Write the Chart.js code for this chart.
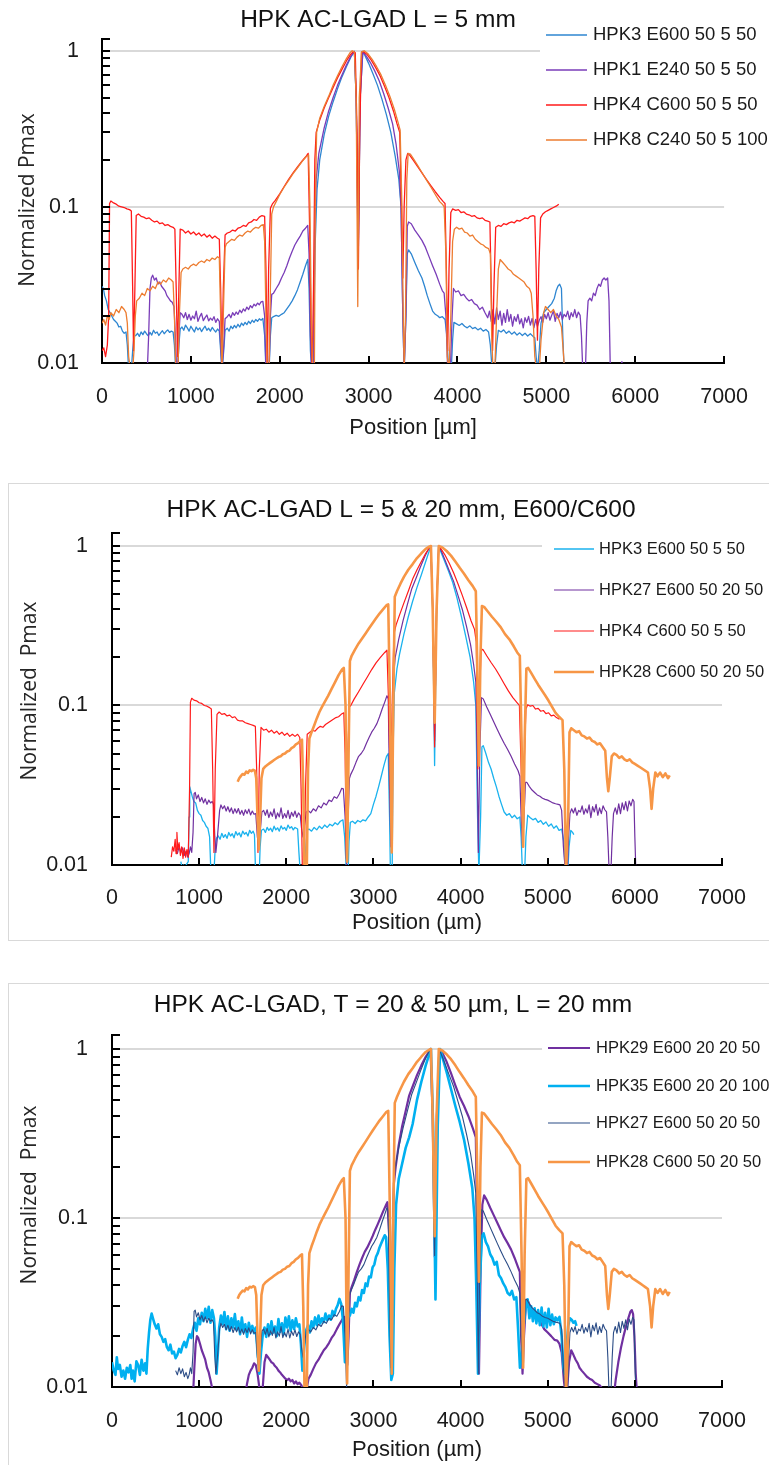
<!DOCTYPE html>
<html><head><meta charset="utf-8">
<script src="https://cdn.jsdelivr.net/npm/chart.js@4.4.0/dist/chart.umd.min.js"></script>
<style>
html,body{margin:0;padding:0;background:#fff;}
body{width:769px;height:1465px;position:relative;overflow:hidden;}
.p{position:absolute;left:0;}
.frame{position:absolute;border:1px solid #d9d9d9;}
</style></head><body>
<div class="frame" style="left:8px;top:483px;width:780px;height:456px"></div>
<div class="frame" style="left:8px;top:983px;width:780px;height:500px"></div>
<canvas id="c1" class="p" style="top:0" width="769" height="450"></canvas>
<canvas id="c2" class="p" style="top:483px" width="769" height="460"></canvas>
<canvas id="c3" class="p" style="top:983px" width="769" height="482"></canvas>
<script>
// ---------- axis ticks ----------
const xTicks = [0,1000,2000,3000,4000,5000,6000,7000];
const xTickLabels = ['0','1000','2000','3000','4000','5000','6000','7000'];
const yTicks = [0.01,0.02,0.03,0.04,0.05,0.06,0.07,0.08,0.09,0.1,0.2,0.3,0.4,0.5,0.6,0.7,0.8,0.9,1];
const yLabelValues = [0.01,0.1,1];
const yLabelTexts = ['0.01','0.1','1'];

// ---------- panel 1 : HPK AC-LGAD L = 5 mm ----------
const p1Labels = ['HPK3 E600 50 5 50','HPK1 E240 50 5 50','HPK4 C600 50 5 50','HPK8 C240 50 5 100'];
const p1Hpk3 = [[0,0.031],[15,0.03],[30,0.027],[50,0.025],[70,0.022],[90,0.021],[110,0.02],[130,0.019],[150,0.0185],[170,0.018],[190,0.017],[210,0.0172],[230,0.016],[250,0.0155],[270,0.0158],[285,0.013],[300,0.009],[330,0.009],[345,0.012],[360,0.0148],[380,0.015],[400,0.0155],[420,0.0148],[440,0.0158],[460,0.0152],[480,0.016],[500,0.0154],[520,0.0149],[540,0.0157],[560,0.0151],[580,0.0162],[600,0.0155],[620,0.0158],[640,0.015],[660,0.0156],[680,0.0161],[700,0.0154],[720,0.0159],[740,0.0163],[760,0.0157],[780,0.016],[800,0.0158],[815,0.013],[830,0.009],[850,0.009],[865,0.013],[880,0.0165],[900,0.017],[920,0.0162],[940,0.0175],[960,0.0168],[980,0.016],[1000,0.0172],[1020,0.0165],[1040,0.0158],[1060,0.017],[1080,0.0163],[1100,0.0168],[1120,0.0159],[1140,0.0166],[1160,0.0172],[1180,0.0162],[1200,0.0167],[1220,0.016],[1240,0.0169],[1260,0.0163],[1280,0.0158],[1300,0.0165],[1320,0.016],[1335,0.012],[1350,0.009],[1370,0.012],[1385,0.0162],[1410,0.0167],[1430,0.016],[1450,0.0172],[1470,0.0166],[1490,0.0174],[1510,0.0168],[1530,0.0177],[1550,0.017],[1570,0.018],[1590,0.0174],[1610,0.0182],[1630,0.0176],[1650,0.0185],[1670,0.0179],[1690,0.0188],[1710,0.0182],[1730,0.019],[1750,0.0185],[1770,0.0192],[1790,0.0188],[1810,0.0193],[1830,0.015],[1845,0.009],[1880,0.009],[1895,0.015],[1910,0.0195],[1930,0.0198],[1960,0.0202],[1990,0.0199],[2020,0.0205],[2050,0.021],[2080,0.0222],[2110,0.0235],[2140,0.025],[2170,0.027],[2200,0.0295],[2230,0.033],[2260,0.037],[2290,0.042],[2315,0.046],[2330,0.03],[2345,0.012],[2360,0.009],[2380,0.009],[2395,0.05],[2420,0.13],[2450,0.2],[2500,0.29],[2550,0.38],[2600,0.47],[2650,0.57],[2700,0.68],[2750,0.79],[2800,0.91],[2840,0.99],[2860,0.5],[2883,0.045],[2905,0.5],[2935,0.99],[2960,0.93],[3000,0.83],[3050,0.71],[3100,0.6],[3150,0.49],[3200,0.39],[3250,0.3],[3300,0.21],[3340,0.15],[3365,0.1],[3385,0.02],[3400,0.009],[3420,0.02],[3435,0.05],[3450,0.053],[3480,0.05],[3520,0.044],[3560,0.039],[3600,0.035],[3630,0.031],[3660,0.027],[3690,0.024],[3720,0.0215],[3750,0.0205],[3780,0.02],[3800,0.0195],[3830,0.0198],[3860,0.019],[3880,0.015],[3900,0.009],[3930,0.009],[3945,0.014],[3960,0.0182],[3990,0.0178],[4020,0.0174],[4050,0.0179],[4080,0.0172],[4110,0.0168],[4140,0.0173],[4170,0.0166],[4200,0.0169],[4230,0.0163],[4260,0.0167],[4290,0.016],[4320,0.0164],[4350,0.0158],[4370,0.013],[4390,0.009],[4420,0.009],[4440,0.013],[4460,0.0162],[4490,0.0158],[4520,0.0163],[4550,0.0155],[4580,0.016],[4610,0.0153],[4640,0.0158],[4670,0.0151],[4700,0.0156],[4730,0.015],[4760,0.0155],[4790,0.0149],[4820,0.0154],[4850,0.0148],[4870,0.0145],[4885,0.011],[4900,0.009],[4920,0.012],[4940,0.018],[4970,0.021],[5000,0.022],[5030,0.023],[5060,0.024],[5090,0.026],[5110,0.029],[5130,0.031],[5150,0.032],[5170,0.03],[5185,0.015],[5200,0.009]];
const p1Hpk1 = [[510,0.009],[525,0.015],[540,0.03],[555,0.035],[570,0.0365],[590,0.034],[610,0.035],[630,0.032],[650,0.033],[670,0.031],[690,0.03],[710,0.029],[730,0.027],[750,0.026],[770,0.025],[790,0.0245],[810,0.023],[825,0.015],[840,0.009],[855,0.009],[865,0.015],[880,0.021],[900,0.0205],[920,0.0195],[940,0.021],[960,0.019],[980,0.0205],[1000,0.0188],[1020,0.02],[1040,0.0192],[1060,0.0215],[1080,0.0185],[1100,0.0198],[1120,0.0208],[1140,0.0187],[1160,0.0195],[1180,0.0203],[1200,0.0186],[1220,0.0194],[1240,0.0188],[1260,0.0198],[1280,0.0182],[1300,0.0192],[1320,0.0185],[1335,0.013],[1350,0.009],[1370,0.013],[1385,0.0192],[1410,0.0198],[1430,0.0205],[1450,0.0195],[1470,0.021],[1490,0.0202],[1510,0.0212],[1530,0.0205],[1550,0.0218],[1570,0.021],[1590,0.0222],[1610,0.0215],[1630,0.0228],[1650,0.022],[1670,0.0233],[1690,0.0226],[1710,0.0238],[1730,0.0232],[1750,0.0242],[1770,0.0236],[1790,0.0246],[1810,0.0248],[1830,0.02],[1845,0.009],[1880,0.009],[1895,0.02],[1910,0.0275],[1930,0.028],[1960,0.03],[1990,0.032],[2020,0.035],[2050,0.038],[2080,0.042],[2110,0.047],[2140,0.052],[2170,0.057],[2200,0.061],[2230,0.065],[2260,0.07],[2290,0.073],[2315,0.076],[2330,0.05],[2345,0.015],[2360,0.009],[2380,0.009],[2395,0.07],[2410,0.15],[2440,0.22],[2500,0.32],[2550,0.41],[2600,0.5],[2650,0.6],[2700,0.7],[2750,0.81],[2800,0.92],[2840,0.99],[2860,0.5],[2883,0.05],[2905,0.5],[2935,0.99],[2970,0.93],[3020,0.84],[3070,0.74],[3120,0.64],[3170,0.53],[3220,0.43],[3270,0.34],[3310,0.25],[3345,0.17],[3365,0.1],[3385,0.02],[3400,0.009],[3420,0.02],[3435,0.075],[3450,0.08],[3480,0.078],[3520,0.071],[3560,0.066],[3600,0.061],[3640,0.055],[3680,0.048],[3720,0.042],[3760,0.037],[3800,0.032],[3830,0.029],[3850,0.028],[3870,0.02],[3890,0.009],[3920,0.009],[3940,0.02],[3955,0.03],[3980,0.0285],[4010,0.029],[4040,0.027],[4070,0.0275],[4100,0.026],[4130,0.025],[4160,0.0255],[4190,0.024],[4220,0.0235],[4250,0.022],[4280,0.0228],[4310,0.021],[4340,0.0195],[4360,0.0215],[4380,0.0185],[4400,0.022],[4420,0.0178],[4440,0.0225],[4460,0.019],[4480,0.0215],[4500,0.0175],[4520,0.0208],[4540,0.0182],[4560,0.022],[4580,0.0185],[4600,0.0205],[4620,0.0172],[4640,0.0198],[4660,0.0185],[4680,0.0205],[4700,0.0178],[4720,0.0192],[4740,0.0168],[4760,0.0195],[4780,0.0182],[4800,0.0199],[4820,0.0175],[4840,0.0193],[4860,0.0168],[4880,0.019],[4900,0.0172],[4920,0.0188],[4940,0.0198],[4960,0.0182],[4980,0.0205],[5000,0.0192],[5020,0.021],[5040,0.0188],[5060,0.0202],[5080,0.0215],[5100,0.0185],[5120,0.0208],[5140,0.0195],[5160,0.0212],[5180,0.019],[5200,0.0205],[5220,0.0198],[5240,0.0215],[5260,0.019],[5280,0.021],[5300,0.0198],[5320,0.022],[5340,0.0195],[5360,0.0212],[5380,0.0202],[5395,0.015],[5410,0.009],[5440,0.009],[5455,0.018],[5470,0.025],[5490,0.026],[5510,0.025],[5530,0.028],[5550,0.027],[5570,0.03],[5590,0.032],[5610,0.031],[5630,0.034],[5650,0.035],[5670,0.034],[5690,0.035],[5705,0.025],[5720,0.009],[5730,null],[5835,0.009],[5850,0.0102],[5865,0.009]];
const p1Hpk4 = [[0,0.012],[20,0.0125],[40,0.011],[60,0.013],[75,0.02],[85,0.105],[100,0.109],[130,0.106],[160,0.104],[190,0.101],[220,0.1],[250,0.099],[280,0.097],[310,0.096],[330,0.094],[345,0.03],[355,0.012],[370,0.03],[385,0.088],[410,0.09],[440,0.087],[470,0.086],[500,0.084],[530,0.085],[560,0.082],[590,0.08],[620,0.081],[650,0.078],[680,0.079],[710,0.076],[740,0.077],[770,0.075],[800,0.074],[820,0.072],[835,0.03],[850,0.011],[865,0.03],[880,0.072],[910,0.071],[940,0.068],[970,0.07],[1000,0.067],[1030,0.069],[1060,0.066],[1090,0.068],[1120,0.065],[1150,0.067],[1180,0.064],[1210,0.066],[1240,0.063],[1270,0.065],[1300,0.063],[1320,0.062],[1335,0.03],[1350,0.011],[1365,0.03],[1385,0.066],[1410,0.068],[1440,0.069],[1470,0.071],[1500,0.07],[1530,0.073],[1560,0.074],[1590,0.076],[1620,0.075],[1650,0.079],[1680,0.08],[1710,0.083],[1740,0.082],[1770,0.086],[1800,0.088],[1830,0.087],[1845,0.04],[1860,0.009],[1875,0.04],[1895,0.098],[1920,0.105],[1950,0.11],[2000,0.121],[2050,0.135],[2100,0.15],[2150,0.165],[2200,0.18],[2250,0.196],[2300,0.212],[2320,0.22],[2335,0.08],[2350,0.02],[2365,0.009],[2380,0.03],[2395,0.2],[2410,0.3],[2450,0.36],[2500,0.43],[2550,0.5],[2600,0.58],[2650,0.67],[2700,0.76],[2750,0.86],[2800,0.95],[2830,0.99],[2850,0.97],[2870,0.3],[2885,0.04],[2900,0.3],[2920,0.98],[2940,0.99],[2980,0.95],[3030,0.87],[3080,0.78],[3130,0.69],[3180,0.59],[3230,0.5],[3280,0.41],[3320,0.34],[3350,0.3],[3370,0.1],[3385,0.035],[3400,0.1],[3420,0.2],[3440,0.22],[3460,0.215],[3500,0.2],[3550,0.182],[3600,0.165],[3650,0.15],[3700,0.137],[3750,0.125],[3800,0.115],[3840,0.108],[3860,0.105],[3875,0.04],[3890,0.012],[3905,0.04],[3925,0.092],[3945,0.097],[3980,0.095],[4010,0.096],[4040,0.092],[4070,0.093],[4100,0.09],[4130,0.089],[4160,0.087],[4190,0.088],[4220,0.085],[4250,0.084],[4280,0.085],[4310,0.082],[4340,0.081],[4365,0.08],[4380,0.03],[4395,0.012],[4410,0.03],[4430,0.074],[4460,0.076],[4490,0.075],[4520,0.078],[4550,0.077],[4580,0.079],[4610,0.08],[4640,0.079],[4670,0.082],[4700,0.081],[4730,0.083],[4760,0.085],[4790,0.084],[4820,0.087],[4850,0.088],[4870,0.087],[4885,0.04],[4900,0.014],[4915,0.04],[4935,0.085],[4960,0.09],[4990,0.093],[5020,0.095],[5050,0.097],[5080,0.099],[5110,0.101],[5140,0.104]];
const p1Hpk8 = [[0,0.018],[20,0.019],[40,0.0175],[60,0.02],[80,0.019],[100,0.021],[130,0.02],[160,0.022],[190,0.021],[220,0.023],[250,0.022],[270,0.021],[285,0.018],[300,0.011],[320,0.009],[345,0.009],[360,0.012],[375,0.02],[390,0.025],[420,0.026],[450,0.028],[480,0.027],[510,0.03],[540,0.029],[570,0.031],[600,0.03],[630,0.033],[660,0.032],[690,0.034],[720,0.033],[750,0.035],[780,0.034],[800,0.033],[815,0.02],[830,0.009],[855,0.009],[870,0.02],[890,0.038],[910,0.04],[940,0.041],[970,0.04],[1000,0.042],[1030,0.043],[1060,0.042],[1090,0.044],[1120,0.045],[1150,0.044],[1180,0.046],[1210,0.045],[1240,0.047],[1270,0.046],[1300,0.048],[1320,0.047],[1335,0.02],[1350,0.009],[1365,0.02],[1385,0.055],[1400,0.058],[1430,0.06],[1460,0.062],[1490,0.061],[1520,0.064],[1550,0.066],[1580,0.065],[1610,0.068],[1640,0.07],[1670,0.069],[1700,0.072],[1730,0.074],[1760,0.073],[1790,0.076],[1815,0.077],[1830,0.06],[1845,0.02],[1860,0.009],[1880,0.009],[1895,0.03],[1910,0.09],[1930,0.1],[1960,0.108],[2000,0.12],[2050,0.134],[2100,0.148],[2150,0.163],[2200,0.178],[2250,0.195],[2300,0.21],[2325,0.215],[2340,0.1],[2355,0.02],[2370,0.009],[2390,0.009],[2400,0.1],[2415,0.3],[2450,0.37],[2500,0.44],[2550,0.51],[2600,0.6],[2650,0.69],[2700,0.79],[2750,0.89],[2790,0.97],[2815,1.0],[2840,0.98],[2860,0.5],[2878,0.023],[2895,0.5],[2920,0.98],[2950,1.0],[2990,0.96],[3040,0.88],[3090,0.79],[3140,0.7],[3190,0.6],[3240,0.51],[3290,0.42],[3330,0.35],[3355,0.31],[3375,0.1],[3390,0.02],[3400,0.009],[3415,0.02],[3430,0.15],[3445,0.22],[3470,0.218],[3500,0.205],[3550,0.185],[3600,0.166],[3650,0.149],[3700,0.134],[3750,0.12],[3800,0.108],[3830,0.104],[3850,0.1],[3870,0.05],[3885,0.011],[3905,0.009],[3925,0.02],[3945,0.06],[3965,0.072],[3990,0.074],[4020,0.072],[4050,0.073],[4080,0.069],[4110,0.068],[4140,0.065],[4170,0.066],[4200,0.062],[4230,0.06],[4260,0.058],[4290,0.057],[4320,0.055],[4350,0.054],[4370,0.05],[4385,0.015],[4400,0.009],[4420,0.009],[4440,0.02],[4460,0.04],[4480,0.046],[4510,0.044],[4540,0.042],[4570,0.04],[4600,0.039],[4630,0.037],[4660,0.036],[4690,0.035],[4720,0.034],[4750,0.033],[4780,0.031],[4810,0.03],[4830,0.028],[4850,0.02],[4870,0.011],[4890,0.009],[4920,0.009],[4940,0.014],[4970,0.021],[4990,0.023],[5020,0.022],[5050,0.021],[5080,0.022],[5110,0.02],[5140,0.019],[5170,0.017],[5190,0.012],[5205,0.009]];

// ---------- panel 2 : L = 5 & 20 mm ----------
const p2Labels = ['HPK3 E600 50 5 50','HPK27 E600 50 20 50','HPK4 C600 50 5 50','HPK28 C600 50 20 50'];
const p2Hpk3 = [[790,0.0105],[805,0.0095],[820,0.01],[840,0.0098],[860,0.0102],[875,0.0105],[885,0.02],[892,0.031],[905,0.029],[920,0.027],[940,0.025],[960,0.0245],[980,0.022],[1000,0.021],[1020,0.0205],[1040,0.019],[1060,0.0185],[1080,0.0175],[1100,0.017],[1120,0.015],[1135,0.009],[1170,0.009],[1185,0.013],[1200,0.0148],[1220,0.0152],[1240,0.0145],[1260,0.0158],[1280,0.0149],[1300,0.0155],[1320,0.0147],[1340,0.016],[1360,0.0152],[1380,0.0157],[1400,0.0148],[1420,0.0162],[1440,0.0154],[1460,0.0159],[1480,0.015],[1500,0.0163],[1520,0.0156],[1540,0.016],[1560,0.0152],[1580,0.0165],[1600,0.0158],[1620,0.0163],[1635,0.0155],[1645,0.01],[1665,0.009],[1690,0.009],[1700,0.013],[1715,0.0165],[1740,0.0168],[1760,0.016],[1780,0.0172],[1800,0.0165],[1820,0.017],[1840,0.0162],[1860,0.0175],[1880,0.0166],[1900,0.0171],[1920,0.0163],[1940,0.0176],[1960,0.0168],[1980,0.0172],[2000,0.0165],[2020,0.0178],[2040,0.017],[2060,0.0174],[2080,0.0166],[2100,0.0172],[2130,0.0168],[2145,0.012],[2160,0.009],[2210,0.009],[2225,0.013],[2240,0.0165],[2260,0.0168],[2290,0.0163],[2320,0.0172],[2350,0.0166],[2380,0.0175],[2410,0.0169],[2440,0.0178],[2470,0.0172],[2500,0.018],[2530,0.0176],[2560,0.0184],[2590,0.0179],[2620,0.0188],[2650,0.0192],[2670,0.015],[2690,0.009],[2710,0.009],[2720,0.014],[2735,0.0185],[2760,0.0188],[2790,0.0182],[2820,0.019],[2850,0.0186],[2880,0.0192],[2910,0.0189],[2940,0.02],[2970,0.021],[3000,0.024],[3030,0.027],[3060,0.031],[3090,0.036],[3120,0.042],[3150,0.048],[3170,0.05],[3185,0.02],[3195,0.009],[3215,0.009],[3225,0.05],[3240,0.12],[3270,0.17],[3300,0.21],[3350,0.28],[3400,0.36],[3450,0.45],[3500,0.55],[3550,0.66],[3600,0.8],[3640,0.93],[3660,1.0],[3680,0.4],[3702,0.042],[3725,0.4],[3748,1.0],[3770,0.93],[3810,0.82],[3860,0.7],[3910,0.59],[3960,0.47],[4010,0.36],[4060,0.27],[4110,0.2],[4150,0.14],[4175,0.1],[4195,0.02],[4210,0.009],[4230,0.02],[4245,0.055],[4260,0.056],[4290,0.05],[4320,0.044],[4350,0.04],[4380,0.035],[4410,0.031],[4440,0.027],[4470,0.024],[4500,0.0215],[4530,0.0205],[4560,0.021],[4590,0.0198],[4620,0.0205],[4650,0.0195],[4680,0.02],[4695,0.015],[4710,0.009],[4735,0.009],[4750,0.015],[4770,0.0205],[4800,0.0198],[4830,0.0192],[4860,0.0196],[4890,0.0185],[4920,0.019],[4950,0.018],[4980,0.0186],[5010,0.0175],[5040,0.0181],[5070,0.017],[5100,0.0176],[5130,0.0165],[5160,0.0168],[5185,0.014],[5200,0.009],[5230,0.009],[5245,0.013],[5265,0.0165],[5285,0.016],[5300,0.0155]];
const hpk27 = [[730,0.0125],[750,0.0118],[770,0.013],[790,0.012],[810,0.0128],[830,0.0115],[850,0.0122],[870,0.0112],[885,0.0118],[900,0.013],[915,0.012],[930,0.016],[942,0.028],[955,0.0285],[970,0.026],[990,0.0275],[1010,0.025],[1030,0.0265],[1050,0.0245],[1070,0.026],[1090,0.024],[1110,0.0255],[1130,0.0245],[1150,0.025],[1165,0.024],[1180,0.015],[1192,0.012],[1210,0.015],[1235,0.022],[1250,0.0238],[1270,0.0225],[1290,0.0235],[1310,0.0218],[1330,0.0232],[1350,0.0215],[1370,0.0228],[1390,0.021],[1410,0.0225],[1430,0.0212],[1450,0.0226],[1470,0.0208],[1490,0.022],[1510,0.0205],[1530,0.0222],[1550,0.021],[1570,0.0224],[1590,0.0206],[1610,0.0218],[1630,0.0208],[1650,0.021],[1668,0.015],[1685,0.013],[1700,0.016],[1720,0.0215],[1740,0.022],[1760,0.0205],[1780,0.0222],[1800,0.0198],[1820,0.0215],[1840,0.0202],[1860,0.0225],[1880,0.0195],[1900,0.0212],[1920,0.02],[1940,0.0228],[1960,0.0196],[1980,0.021],[2000,0.0198],[2020,0.022],[2040,0.0195],[2060,0.0214],[2080,0.0202],[2100,0.0218],[2120,0.0199],[2140,0.0212],[2160,0.0205],[2175,0.017],[2192,0.015],[2210,0.018],[2230,0.0215],[2250,0.022],[2280,0.0212],[2310,0.0225],[2340,0.0218],[2370,0.0235],[2400,0.0228],[2430,0.0245],[2460,0.0238],[2490,0.0255],[2520,0.025],[2550,0.0268],[2580,0.0262],[2610,0.028],[2635,0.0302],[2655,0.03],[2675,0.02],[2692,0.01],[2710,0.02],[2725,0.035],[2740,0.037],[2770,0.04],[2800,0.044],[2830,0.048],[2860,0.05],[2890,0.053],[2920,0.058],[2950,0.063],[2980,0.068],[3010,0.072],[3040,0.077],[3070,0.085],[3100,0.095],[3130,0.105],[3155,0.115],[3170,0.11],[3185,0.03],[3200,0.013],[3215,0.04],[3230,0.15],[3250,0.2],[3290,0.26],[3340,0.34],[3390,0.43],[3440,0.54],[3490,0.63],[3540,0.74],[3590,0.86],[3630,0.95],[3655,1.0],[3680,0.4],[3702,0.06],[3725,0.4],[3750,1.0],[3775,0.94],[3820,0.82],[3870,0.7],[3920,0.6],[3970,0.49],[4020,0.4],[4070,0.31],[4115,0.24],[4150,0.18],[4175,0.14],[4190,0.05],[4204,0.012],[4220,0.05],[4240,0.112],[4260,0.11],[4300,0.098],[4340,0.088],[4380,0.079],[4420,0.071],[4460,0.064],[4500,0.058],[4540,0.053],[4580,0.048],[4620,0.043],[4660,0.039],[4680,0.036],[4695,0.02],[4711,0.013],[4728,0.02],[4745,0.033],[4760,0.033],[4790,0.031],[4820,0.0295],[4850,0.0285],[4880,0.0275],[4910,0.027],[4940,0.0262],[4970,0.0258],[5000,0.0255],[5030,0.025],[5060,0.0245],[5090,0.0242],[5120,0.024],[5140,0.0238],[5160,0.022],[5180,0.013],[5204,0.009],[5225,0.009],[5240,0.015],[5255,0.021],[5275,0.0225],[5295,0.0212],[5315,0.0228],[5335,0.0205],[5355,0.022],[5375,0.0215],[5395,0.0235],[5415,0.0208],[5435,0.0225],[5455,0.0212],[5475,0.0238],[5495,0.0198],[5515,0.0232],[5535,0.0215],[5555,0.024],[5575,0.0205],[5595,0.0228],[5615,0.021],[5635,0.0235],[5655,0.0222],[5675,0.0215],[5690,0.015],[5705,0.009],[5725,0.009],[5740,0.015],[5755,0.021],[5775,0.0228],[5795,0.0208],[5815,0.0242],[5835,0.021],[5855,0.0245],[5875,0.0222],[5895,0.025],[5915,0.0218],[5935,0.0252],[5955,0.0235],[5975,0.0258],[5990,0.025],[6000,0.015],[6012,0.009]];
const p2Hpk4 = [[680,0.0112],[695,0.013],[710,0.0122],[725,0.0145],[735,0.0118],[745,0.016],[755,0.0125],[770,0.0138],[785,0.0115],[800,0.013],[815,0.011],[830,0.0128],[845,0.0112],[860,0.0125],[875,0.0112],[890,0.03],[900,0.105],[915,0.111],[940,0.108],[970,0.107],[1000,0.104],[1030,0.103],[1060,0.1],[1090,0.099],[1120,0.097],[1140,0.095],[1155,0.04],[1170,0.012],[1185,0.04],[1205,0.088],[1230,0.091],[1260,0.088],[1290,0.089],[1320,0.086],[1350,0.087],[1380,0.084],[1410,0.085],[1440,0.081],[1470,0.08],[1500,0.08],[1530,0.078],[1560,0.077],[1590,0.076],[1620,0.075],[1645,0.074],[1660,0.04],[1675,0.012],[1690,0.04],[1710,0.073],[1740,0.07],[1770,0.071],[1800,0.068],[1830,0.07],[1860,0.067],[1890,0.069],[1920,0.066],[1950,0.068],[1980,0.065],[2010,0.067],[2040,0.064],[2070,0.066],[2100,0.064],[2130,0.066],[2155,0.063],[2170,0.03],[2185,0.009],[2205,0.009],[2220,0.03],[2240,0.066],[2270,0.068],[2300,0.07],[2330,0.069],[2360,0.072],[2390,0.074],[2420,0.073],[2450,0.076],[2480,0.078],[2510,0.08],[2540,0.082],[2570,0.084],[2600,0.085],[2630,0.088],[2660,0.09],[2675,0.05],[2690,0.011],[2705,0.05],[2725,0.098],[2740,0.1],[2780,0.11],[2830,0.122],[2880,0.136],[2930,0.151],[2980,0.168],[3030,0.185],[3080,0.2],[3130,0.215],[3155,0.222],[3175,0.1],[3195,0.03],[3215,0.1],[3235,0.28],[3260,0.32],[3300,0.37],[3350,0.44],[3400,0.52],[3450,0.62],[3500,0.71],[3550,0.8],[3600,0.9],[3640,0.97],[3660,1.0],[3680,0.45],[3702,0.055],[3725,0.45],[3748,1.0],[3770,0.97],[3820,0.88],[3870,0.78],[3920,0.68],[3970,0.58],[4020,0.49],[4070,0.41],[4120,0.34],[4160,0.3],[4180,0.25],[4198,0.04],[4215,0.1],[4235,0.22],[4255,0.225],[4300,0.205],[4350,0.186],[4400,0.17],[4450,0.153],[4500,0.137],[4550,0.123],[4600,0.112],[4650,0.104],[4675,0.1],[4695,0.04],[4712,0.017],[4728,0.04],[4750,0.095],[4770,0.101],[4800,0.099],[4830,0.1],[4860,0.095],[4890,0.096],[4920,0.092],[4950,0.093],[4980,0.089],[5010,0.09],[5040,0.086],[5070,0.087],[5100,0.084],[5135,0.082]];
const hpk28 = [[1442,0.0333],[1460,0.035],[1480,0.0362],[1500,0.0372],[1520,0.0368],[1540,0.0385],[1560,0.0378],[1580,0.0392],[1600,0.0388],[1620,0.0395],[1640,0.039],[1655,0.035],[1670,0.02],[1685,0.0125],[1700,0.02],[1715,0.035],[1735,0.04],[1760,0.0415],[1785,0.0425],[1810,0.0435],[1835,0.0445],[1860,0.0455],[1885,0.0465],[1910,0.0475],[1935,0.048],[1960,0.0495],[1985,0.05],[2010,0.0515],[2035,0.052],[2060,0.054],[2085,0.055],[2110,0.057],[2135,0.058],[2160,0.06],[2180,0.061],[2195,0.03],[2210,0.009],[2235,0.009],[2250,0.04],[2265,0.062],[2290,0.068],[2320,0.075],[2350,0.083],[2380,0.091],[2410,0.098],[2440,0.105],[2480,0.115],[2520,0.127],[2560,0.14],[2600,0.155],[2640,0.168],[2660,0.172],[2680,0.1],[2698,0.0105],[2715,0.05],[2730,0.19],[2750,0.205],[2790,0.225],[2830,0.245],[2870,0.263],[2910,0.283],[2950,0.305],[2990,0.328],[3030,0.352],[3070,0.377],[3110,0.4],[3150,0.425],[3170,0.43],[3190,0.1],[3210,0.012],[3228,0.1],[3245,0.48],[3270,0.52],[3310,0.58],[3350,0.64],[3400,0.71],[3450,0.77],[3500,0.84],[3550,0.9],[3600,0.96],[3640,0.99],[3660,1.0],[3680,0.4],[3703,0.078],[3725,0.4],[3750,1.0],[3790,0.98],[3840,0.93],[3890,0.87],[3940,0.8],[3990,0.73],[4040,0.67],[4090,0.61],[4140,0.56],[4175,0.52],[4190,0.2],[4210,0.042],[4228,0.2],[4245,0.42],[4270,0.415],[4310,0.39],[4360,0.36],[4410,0.335],[4460,0.31],[4510,0.28],[4560,0.26],[4610,0.235],[4650,0.215],[4680,0.205],[4700,0.06],[4718,0.013],[4735,0.06],[4755,0.17],[4775,0.172],[4810,0.16],[4850,0.147],[4890,0.135],[4930,0.125],[4970,0.116],[5010,0.107],[5050,0.098],[5090,0.09],[5130,0.085],[5170,0.081],[5190,0.04],[5210,0.009],[5235,0.02],[5250,0.068],[5270,0.072],[5300,0.07],[5330,0.068],[5360,0.069],[5390,0.065],[5420,0.064],[5450,0.062],[5480,0.063],[5510,0.06],[5540,0.059],[5570,0.057],[5600,0.058],[5630,0.055],[5660,0.052],[5680,0.035],[5695,0.029],[5712,0.035],[5735,0.048],[5760,0.05],[5790,0.049],[5820,0.047],[5850,0.048],[5880,0.046],[5910,0.045],[5940,0.046],[5970,0.044],[6000,0.043],[6030,0.042],[6060,0.041],[6090,0.04],[6120,0.039],[6150,0.038],[6175,0.03],[6192,0.0225],[6210,0.03],[6235,0.038],[6260,0.036],[6290,0.038],[6320,0.0355],[6350,0.0375],[6380,0.035],[6400,0.0365]];

// ---------- panel 3 : T = 20 & 50 um, L = 20 mm ----------
const p3Labels = ['HPK29 E600 20 20 50','HPK35 E600 20 20 100','HPK27 E600 50 20 50','HPK28 C600 50 20 50'];
const hpk29 = [[930,0.009],[945,0.013],[960,0.018],[975,0.02],[990,0.0195],[1010,0.018],[1030,0.0165],[1050,0.0155],[1070,0.0145],[1090,0.013],[1110,0.0122],[1130,0.011],[1150,0.0098],[1165,0.009],[1200,null],[1530,0.009],[1550,0.0105],[1570,0.0118],[1590,0.0125],[1610,0.013],[1630,0.0138],[1650,0.0135],[1670,0.012],[1690,0.01],[1710,0.009],[1730,0.01],[1750,0.014],[1770,0.0155],[1790,0.015],[1810,0.0145],[1830,0.014],[1850,0.0138],[1870,0.0133],[1890,0.013],[1910,0.0125],[1930,0.0122],[1950,0.0118],[1970,0.0115],[1990,0.0112],[2010,0.011],[2030,0.0112],[2050,0.0108],[2070,0.011],[2090,0.0105],[2110,0.0108],[2130,0.0104],[2150,0.0106],[2175,0.0102],[2195,0.0095],[2215,0.009],[2235,0.0098],[2255,0.0112],[2280,0.0118],[2310,0.0128],[2340,0.0138],[2370,0.0145],[2400,0.0155],[2430,0.0165],[2460,0.0172],[2490,0.0182],[2520,0.0195],[2550,0.0205],[2580,0.022],[2610,0.0235],[2640,0.025],[2665,0.026],[2680,0.02],[2700,0.0135],[2715,0.02],[2730,0.036],[2750,0.039],[2780,0.043],[2810,0.048],[2840,0.053],[2870,0.058],[2900,0.063],[2930,0.067],[2960,0.072],[2990,0.078],[3020,0.085],[3050,0.092],[3080,0.1],[3110,0.109],[3140,0.118],[3160,0.124],[3180,0.08],[3200,0.015],[3218,0.06],[3235,0.16],[3255,0.2],[3290,0.27],[3330,0.35],[3370,0.43],[3410,0.53],[3450,0.6],[3500,0.7],[3550,0.8],[3600,0.9],[3640,0.97],[3655,1.0],[3680,0.4],[3704,0.059],[3728,0.4],[3760,1.0],[3790,0.95],[3840,0.84],[3890,0.72],[3940,0.61],[3990,0.52],[4040,0.46],[4090,0.4],[4140,0.34],[4175,0.3],[4192,0.08],[4211,0.012],[4230,0.05],[4250,0.12],[4270,0.136],[4300,0.128],[4340,0.115],[4380,0.104],[4420,0.094],[4460,0.085],[4500,0.077],[4540,0.071],[4580,0.065],[4620,0.058],[4660,0.051],[4680,0.048],[4695,0.02],[4711,0.012],[4728,0.02],[4750,0.031],[4770,0.0325],[4800,0.03],[4840,0.027],[4880,0.0255],[4920,0.024],[4960,0.022],[5000,0.021],[5040,0.02],[5080,0.019],[5110,0.0188],[5135,0.018],[5160,0.016],[5185,0.011],[5204,0.009],[5225,0.01],[5245,0.014],[5270,0.0165],[5295,0.0155],[5320,0.0145],[5345,0.0138],[5365,0.013],[5390,0.0125],[5420,0.012],[5450,0.0115],[5480,0.0112],[5510,0.011],[5540,0.0106],[5570,0.0104],[5600,0.0102],[5625,0.0098],[5650,0.0092],[5670,0.009],[5700,null],[5760,0.009],[5780,0.011],[5810,0.014],[5840,0.017],[5870,0.02],[5900,0.023],[5930,0.026],[5950,0.028],[5965,0.0285],[5980,0.027],[5995,0.02],[6010,0.012],[6025,0.009]];
const hpk35 = [[0,0.014],[20,0.0125],[40,0.0118],[55,0.015],[70,0.0128],[90,0.0135],[110,0.0115],[130,0.0125],[150,0.0112],[170,0.013],[190,0.0122],[210,0.0135],[225,0.0112],[240,0.0125],[260,0.0108],[280,0.0142],[300,0.0135],[320,0.0118],[340,0.0145],[360,0.0125],[380,0.0138],[395,0.012],[410,0.0168],[425,0.021],[440,0.025],[455,0.0272],[470,0.0255],[490,0.0235],[510,0.0222],[530,0.0235],[550,0.0205],[570,0.0198],[590,0.0185],[610,0.0192],[630,0.0172],[650,0.0165],[670,0.0178],[690,0.0158],[710,0.0162],[730,0.0148],[750,0.0155],[770,0.0168],[790,0.016],[810,0.0175],[830,0.0185],[850,0.0172],[870,0.019],[890,0.0205],[910,0.0195],[930,0.022],[950,0.024],[970,0.0215],[990,0.0255],[1010,0.0235],[1030,0.0275],[1050,0.0245],[1070,0.029],[1090,0.0255],[1110,0.0298],[1130,0.024],[1150,0.0285],[1170,0.0255],[1185,0.02],[1200,0.012],[1215,0.016],[1230,0.0225],[1250,0.0265],[1270,0.0235],[1290,0.0278],[1310,0.022],[1330,0.0262],[1350,0.0215],[1370,0.0255],[1390,0.0225],[1410,0.027],[1430,0.0218],[1450,0.0245],[1470,0.0205],[1490,0.0258],[1510,0.0212],[1530,0.0235],[1550,0.0198],[1570,0.024],[1590,0.0215],[1610,0.023],[1630,0.0208],[1650,0.0225],[1670,0.016],[1692,0.012],[1710,0.016],[1730,0.0205],[1750,0.0225],[1770,0.0198],[1790,0.0235],[1810,0.0205],[1830,0.0245],[1850,0.021],[1870,0.0228],[1890,0.02],[1910,0.0252],[1930,0.0212],[1950,0.0238],[1970,0.0205],[1990,0.0258],[2010,0.0225],[2030,0.0262],[2050,0.0215],[2070,0.0248],[2090,0.022],[2110,0.0255],[2130,0.0228],[2150,0.0235],[2168,0.018],[2185,0.0125],[2205,0.017],[2225,0.0215],[2250,0.0232],[2270,0.021],[2290,0.0245],[2310,0.0225],[2330,0.0258],[2350,0.0232],[2370,0.0265],[2390,0.0238],[2410,0.0255],[2430,0.0242],[2450,0.0272],[2470,0.0248],[2490,0.0265],[2510,0.025],[2530,0.0282],[2550,0.0265],[2570,0.029],[2590,0.0305],[2610,0.0332],[2630,0.031],[2650,0.025],[2673,0.014],[2690,0.02],[2710,0.026],[2730,0.0265],[2750,0.029],[2770,0.0275],[2790,0.0315],[2810,0.03],[2830,0.034],[2850,0.0325],[2870,0.0375],[2890,0.036],[2910,0.041],[2930,0.0395],[2950,0.045],[2970,0.0445],[2990,0.051],[3010,0.053],[3030,0.059],[3050,0.062],[3070,0.067],[3090,0.071],[3110,0.075],[3130,0.079],[3145,0.077],[3165,0.05],[3185,0.02],[3205,0.011],[3223,0.012],[3240,0.05],[3260,0.12],[3290,0.17],[3330,0.21],[3370,0.26],[3410,0.3],[3450,0.36],[3500,0.5],[3550,0.64],[3600,0.8],[3640,0.93],[3660,1.0],[3685,0.35],[3712,0.033],[3738,0.35],[3765,1.0],[3790,0.9],[3840,0.73],[3890,0.58],[3940,0.46],[3990,0.37],[4040,0.29],[4090,0.21],[4135,0.15],[4160,0.1],[4180,0.04],[4200,0.012],[4220,0.04],[4245,0.078],[4265,0.081],[4290,0.072],[4315,0.068],[4340,0.061],[4365,0.058],[4390,0.053],[4415,0.055],[4440,0.046],[4465,0.044],[4490,0.041],[4515,0.039],[4540,0.036],[4565,0.035],[4590,0.037],[4615,0.033],[4640,0.034],[4660,0.022],[4681,0.013],[4700,0.015],[4720,0.022],[4745,0.029],[4770,0.033],[4790,0.0255],[4810,0.03],[4830,0.0245],[4850,0.0292],[4870,0.0238],[4890,0.0285],[4910,0.0232],[4930,0.0295],[4950,0.0228],[4970,0.0275],[4990,0.0225],[5010,0.029],[5030,0.0232],[5050,0.0268],[5070,0.0235],[5090,0.0258],[5110,0.0248],[5135,0.026],[5160,0.02],[5180,0.013],[5195,0.012],[5215,0.017],[5235,0.023],[5255,0.0255],[5275,0.025],[5295,0.024],[5315,0.0245],[5330,0.023]];

// ---------- rendering ----------
const FONT = "'Liberation Sans', Arial, sans-serif";
const YTITLE_FONT = "'Open Sans', sans-serif";
Chart.defaults.font.family = FONT;
Chart.defaults.color = '#1a1a1a';

function decoPlugin(g) {
  return {
    id: 'deco',
    afterDraw(chart) {
      const c = chart.ctx, xs = chart.scales.x, ys = chart.scales.y, a = chart.chartArea;
      c.save();
      c.strokeStyle = '#000'; c.lineWidth = 2; c.lineCap = 'butt';
      c.beginPath();
      xTicks.forEach(v => { const px = Math.round(xs.getPixelForValue(v)); c.moveTo(px, a.bottom); c.lineTo(px, a.bottom - 7); });
      yTicks.concat([g.yMax]).forEach(v => { const py = Math.round(ys.getPixelForValue(v)); c.moveTo(a.left - 1, py); c.lineTo(a.left + 8, py); });
      c.stroke();
      // legend
      c.fillStyle = '#fff';
      c.fillRect(g.box[0], g.box[1], g.box[2], g.box[3]);
      c.textBaseline = 'middle'; c.textAlign = 'left';
      c.font = g.legendSize + 'px ' + FONT;
      chart.data.datasets.forEach((d, i) => {
        const y = g.rows[i];
        c.strokeStyle = d.borderColor; c.lineWidth = d.borderWidth;
        c.beginPath(); c.moveTo(g.line[0], y); c.lineTo(g.line[1], y); c.stroke();
        c.fillStyle = '#1a1a1a';
        c.fillText(d.label, g.textX, y);
      });
      // chart title
      c.textAlign = 'center';
      c.font = g.titleSize + 'px ' + FONT;
      c.fillStyle = '#111';
      c.fillText(g.title, g.titleX, g.titleY);
      // y axis title
      c.translate(g.yTitleX, g.yTitleY);
      c.rotate(-Math.PI / 2);
      c.font = '21px ' + YTITLE_FONT;
      c.fillStyle = '#262626';
      c.fillText(g.yTitle, 0, 0);
      c.restore();
    }
  };
}

function build(id, g, series) {
  const n = series.length;
  const datasets = series.map((s, i) => ({
    label: s.label, data: s.data, borderColor: s.color, borderWidth: s.width,
    pointRadius: 0, fill: false, tension: 0, order: n - i,
    borderJoinStyle: 'round'
  }));
  return new Chart(document.getElementById(id), {
    type: 'line',
    data: { datasets },
    options: {
      responsive: false, animation: false, events: [],
      layout: { padding: { left: 0, right: g.padRight, top: g.padTop, bottom: g.padBottom } },
      plugins: { legend: { display: false }, tooltip: { enabled: false }, title: { display: false } },
      scales: {
        x: {
          type: 'linear', min: 0, max: 7000,
          afterBuildTicks: ax => { ax.ticks = xTicks.map(v => ({ value: v })); },
          afterFit: ax => { ax.height = g.xHeight; },
          grid: { display: false, drawTicks: false },
          border: { display: true, color: '#000', width: 2 },
          ticks: { autoSkip: false, maxRotation: 0, padding: g.xTickPad, font: { size: g.tickSize }, color: '#1a1a1a',
                   callback: v => { const i = xTicks.indexOf(v); return i >= 0 ? xTickLabels[i] : ''; } },
          title: { display: true, text: g.xTitle, font: { size: g.xTitleSize }, color: '#1a1a1a', padding: { top: 0, bottom: g.xTitlePad } }
        },
        y: {
          type: 'logarithmic', min: 0.01, max: g.yMax,
          afterBuildTicks: ax => { ax.ticks = yTicks.map(v => ({ value: v })).concat([{ value: g.yMax }]); },
          afterFit: ax => { ax.width = g.yWidth; },
          grid: { drawTicks: false, lineWidth: 2,
                  color: c => (c.tick && (c.tick.value === 1 || c.tick.value === 0.1)) ? '#d9d9d9' : 'rgba(0,0,0,0)' },
          border: { display: true, color: '#000', width: 2 },
          ticks: { autoSkip: false, padding: g.yTickPad, font: { size: g.tickSize }, color: '#1a1a1a',
                   callback: v => { const i = yLabelValues.indexOf(v); return i >= 0 ? yLabelTexts[i] : ''; } },
          title: { display: false }
        }
      }
    },
    plugins: [decoPlugin(g)]
  });
}

build('c1', {
  padRight: 30, padTop: 38.7, padBottom: 5, xHeight: 82, yWidth: 102, yMax: 1.194,
  xTickPad: 21, yTickPad: 23, tickSize: 21.5, xTitleSize: 22, xTitlePad: 4,
  xTitle: 'Position [µm]', yTitle: 'Normalized Pmax', yTitleX: 28, yTitleY: 200,
  title: 'HPK AC-LGAD L = 5 mm', titleX: 378, titleY: 20, titleSize: 24.5,
  box: [540, 18, 229, 140], rows: [35, 70, 105, 140], line: [546, 587], textX: 593, legendSize: 18.5
}, [
  { label: p1Labels[0], data: p1Hpk3, color: '#2E86D1', width: 1.3 },
  { label: p1Labels[1], data: p1Hpk1, color: '#7A3DB8', width: 1.3 },
  { label: p1Labels[2], data: p1Hpk4, color: '#FF1A1A', width: 1.3 },
  { label: p1Labels[3], data: p1Hpk8, color: '#ED7D31', width: 1.3 }
]);

build('c2', {
  padRight: 47, padTop: 50, padBottom: 3, xHeight: 75, yWidth: 112, yMax: 1.206,
  xTickPad: 20, yTickPad: 24, tickSize: 21.5, xTitleSize: 22, xTitlePad: 4,
  xTitle: 'Position (µm)', yTitle: 'Normalized  Pmax', yTitleX: 30, yTitleY: 208,
  title: 'HPK AC-LGAD L = 5 & 20 mm, E600/C600', titleX: 401, titleY: 27, titleSize: 24.5,
  box: [542, 45, 227, 160], rows: [66, 107, 148, 189], line: [554, 594], textX: 599, legendSize: 16.5
}, [
  { label: p2Labels[0], data: p2Hpk3, color: '#1AB2EE', width: 1.3 },
  { label: p2Labels[1], data: hpk27, color: '#7030A0', width: 1.2 },
  { label: p2Labels[2], data: p2Hpk4, color: '#FF1A1A', width: 1.2 },
  { label: p2Labels[3], data: hpk28, color: '#F79646', width: 2.6 }
]);

build('c3', {
  padRight: 47, padTop: 52, padBottom: 1, xHeight: 77, yWidth: 112, yMax: 1.21,
  xTickPad: 21, yTickPad: 24, tickSize: 21.5, xTitleSize: 22, xTitlePad: 1,
  xTitle: 'Position (µm)', yTitle: 'Normalized  Pmax', yTitleX: 30, yTitleY: 212,
  title: 'HPK AC-LGAD, T = 20 & 50 µm, L = 20 mm', titleX: 393, titleY: 22, titleSize: 24.5,
  box: [542, 45, 227, 155], rows: [65, 103, 140, 179], line: [548, 590], textX: 596, legendSize: 16.5
}, [
  { label: p3Labels[0], data: hpk29, color: '#7030A0', width: 2.2 },
  { label: p3Labels[1], data: hpk35, color: '#00B0F0', width: 2.6 },
  { label: p3Labels[2], data: hpk27, color: '#2B4C86', width: 1.1 },
  { label: p3Labels[3], data: hpk28, color: '#F79646', width: 2.6 }
]);
</script>
</body></html>
